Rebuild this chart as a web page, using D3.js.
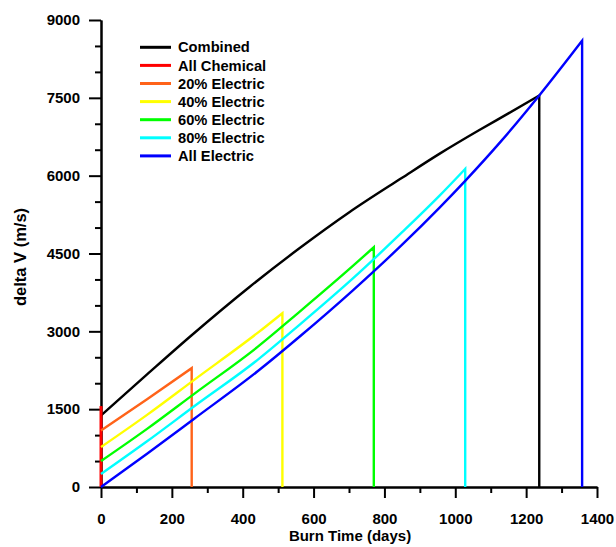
<!DOCTYPE html>
<html>
<head>
<meta charset="utf-8">
<script src="https://cdn.jsdelivr.net/npm/d3@7"></script>
<style>
  body { margin: 0; background: #fff; }
  text { font-family: "Liberation Sans", Arial, Helvetica, sans-serif; font-weight: bold; fill: #000; }
</style>
</head>
<body>
<svg id="chart" width="616" height="547"></svg>
<script>
// Delta V accumulated over burn time for different chemical/electric splits.
// Each series is [burn time (days), delta V (m/s)]; every curve ends with a drop to zero.
const seriesNames = ["Combined", "All Chemical", "20% Electric", "40% Electric", "60% Electric", "80% Electric", "All Electric"];
const seriesColors = ["#000000", "#ff0000", "#ff6319", "#ffff00", "#00ff00", "#00ffff", "#0000ff"];

const combined = [[0,1380],[130,2170],[255,2920],[420,3860],[560,4600],[702,5300],[850,5960],[955,6420],[1068,6880],[1150,7200],[1237,7545]];
const allChemical = [[0,0],[0,1560]];
const electric20 = [[0,1090],[130,1690],[256,2290]];
const electric40 = [[0,770],[130,1390],[264,2070],[442,2970],[512,3350]];
const electric60 = [[0,500],[130,1120],[264,1800],[442,2700],[561,3380],[711,4260],[770,4620]];
const electric80 = [[0,250],[130,880],[264,1560],[442,2450],[561,3130],[711,4020],[850,4910],[955,5610],[1028,6130]];
const allElectric = [[0,0],[130,640],[264,1320],[442,2230],[561,2900],[711,3790],[850,4670],[955,5380],[1028,5900],[1130,6670],[1237,7545],[1358,8600]];

const seriesData = [combined, allChemical, electric20, electric40, electric60, electric80, allElectric];

const xMajorTicks = [0, 200, 400, 600, 800, 1000, 1200, 1400];
const xMinorTicks = [100, 300, 500, 700, 900, 1100, 1300];
const yMajorTicks = [0, 1500, 3000, 4500, 6000, 7500, 9000];
const yMinorTicks = [500, 1000, 2000, 2500, 3500, 4000, 5000, 5500, 6500, 7000, 8000, 8500];

const xTitle = "Burn Time (days)";
const yTitle = "delta V (m/s)";

const svg = d3.select("#chart");
const x = d3.scaleLinear().domain([0, 1400]).range([101, 597]);
const y = d3.scaleLinear().domain([0, 9000]).range([487, 20]);

function styleAxis(g) {
  g.selectAll("path.domain").attr("stroke", "#000").attr("stroke-width", 2);
  g.selectAll(".tick line").attr("stroke", "#000").attr("stroke-width", 2);
  g.selectAll(".tick text").style("font-size", "15px").style("font-family", '"Liberation Sans", Arial, sans-serif').style("font-weight", "bold");
}

// x axis: minor then major ticks
svg.append("g").attr("transform", `translate(0,${y(0)})`)
  .call(d3.axisBottom(x).tickValues(xMinorTicks).tickSize(6).tickSizeOuter(0).tickFormat(""))
  .call(styleAxis);
svg.append("g").attr("transform", `translate(0,${y(0)})`)
  .call(d3.axisBottom(x).tickValues(xMajorTicks).tickSize(11).tickSizeOuter(0).tickPadding(15).tickFormat(d3.format("d")))
  .call(styleAxis);

// y axis: minor then major ticks
svg.append("g").attr("transform", `translate(${x(0)},0)`)
  .call(d3.axisLeft(y).tickValues(yMinorTicks).tickSize(6).tickSizeOuter(0).tickFormat(""))
  .call(styleAxis);
svg.append("g").attr("transform", `translate(${x(0)},0)`)
  .call(d3.axisLeft(y).tickValues(yMajorTicks).tickSize(12).tickSizeOuter(0).tickPadding(9).tickFormat(d3.format("d")))
  .call(styleAxis);

// axis titles
svg.append("text").attr("x", 350).attr("y", 541).attr("text-anchor", "middle")
  .style("font-size", "15px").text(xTitle);
svg.append("text").attr("transform", "translate(26,257) rotate(-90)").attr("text-anchor", "middle")
  .style("font-size", "16.5px").text(yTitle);

// series curves, each followed by a vertical drop to zero
const curveLine = d3.line().x(d => x(d[0])).y(d => y(d[1])).curve(d3.curveMonotoneX);
const straightLine = d3.line().x(d => x(d[0])).y(d => y(d[1]));

seriesData.forEach((pts, i) => {
  let path;
  if (pts.length === 2 && pts[0][0] === pts[1][0]) {
    path = straightLine(pts);
  } else {
    const last = pts[pts.length - 1];
    path = curveLine(pts) + straightLine([last, [last[0], 0]]).replace(/^M[^L]*/, "");
  }
  svg.append("path").attr("d", path).attr("fill", "none")
    .attr("stroke", seriesColors[i]).attr("stroke-width", i === 1 ? 3 : 2.4)
    .attr("stroke-linejoin", "miter");
});

// legend
const legend = svg.append("g").attr("transform", "translate(140,47.3)");
seriesNames.forEach((name, i) => {
  const row = legend.append("g").attr("transform", `translate(0,${i * 18.1})`);
  row.append("line").attr("x1", 0).attr("x2", 31).attr("y1", 0).attr("y2", 0)
    .attr("stroke", seriesColors[i]).attr("stroke-width", 3);
  row.append("text").attr("x", 38).attr("y", 0).attr("dy", "0.35em")
    .style("font-size", "14.7px").text(name);
});
</script>
</body>
</html>
